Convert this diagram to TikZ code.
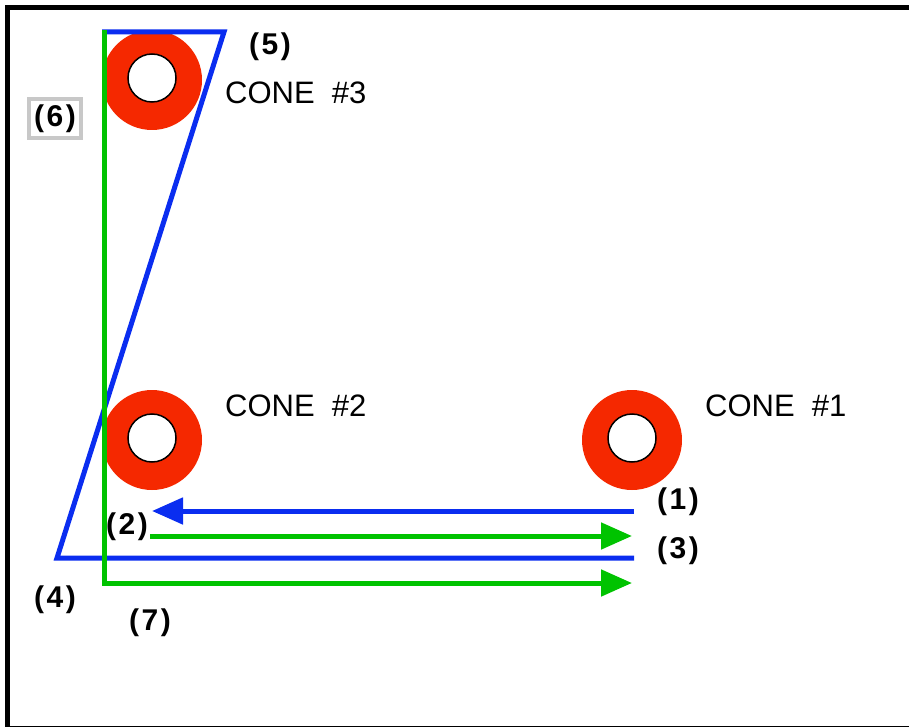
\documentclass[tikz,border=0pt]{standalone}
\usepackage{fontspec}
\setmainfont{Liberation Sans}
\usetikzlibrary{arrows.meta}
\definecolor{conered}{RGB}{245,40,0}
\definecolor{pathblue}{RGB}{10,45,240}
\definecolor{pathgreen}{RGB}{0,195,0}
\definecolor{tagframe}{RGB}{200,200,200}
\newcommand{\steptag}[1]{(\kern2.5pt#1\kern2.5pt)}

\begin{document}
\begin{tikzpicture}[
    x=1pt, y=-1pt,
    ring/.style={circle, fill=conered, minimum size=100pt, inner sep=0pt},
    hole/.style={circle, draw, fill=white, line width=1.5pt, minimum size=48pt, inner sep=0pt},
    conelbl/.style={anchor=west, inner sep=0pt, font=\fontsize{31}{32}\selectfont},
    tag/.style={inner sep=0pt, font=\fontsize{30}{32}\selectfont\bfseries},
    bluepath/.style={draw=pathblue, line width=5pt},
    greenpath/.style={draw=pathgreen, line width=5pt},
    tip/.style={-{Triangle[length=31pt, width=26pt]}}
  ]
    \clip (0,0) rectangle (909,727);
    \draw[line width=5pt] (7.5,7.5) rectangle (920,728.5);

    % cones
    \node[ring] (c3) at (152,80)  {};
    \node[hole] (h3) at (152,78)  {};
    \node[ring] (c2) at (152,440) {};
    \node[hole] (h2) at (152,438) {};
    \node[ring] (c1) at (632,440) {};
    \node[hole] (h1) at (632,438) {};

    \node[conelbl] (l3) at (225,93)  {CONE\ \ \#3};
    \node[conelbl] (l2) at (225,406) {CONE\ \ \#2};
    \node[conelbl] (l1) at (705,406) {CONE\ \ \#1};

    % path corners
    \coordinate (b0) at (102,32);
    \coordinate (b5) at (224,32);
    \coordinate (b4) at (57,558);
    \coordinate (b3) at (634,558);
    \coordinate (a1s) at (634,511);
    \coordinate (a1e) at (152,511);
    \coordinate (a2s) at (150,536);
    \coordinate (a2e) at (632,536);
    \coordinate (g0) at (104,30);
    \coordinate (g1) at (104,583);
    \coordinate (g2) at (632,583);

    \draw[bluepath] (b0) -- (b5) -- (b4) -- (b3);
    \draw[bluepath, tip] (a1s) -- (a1e);
    \draw[greenpath, tip] (a2s) -- (a2e);
    \draw[greenpath, tip] (g0) -- (g1) -- (g2);

    % step labels
    \node[tag] (t1) at (678,502) {\steptag{1}};
    \node[tag] (t2) at (127,527) {\steptag{2}};
    \node[tag] (t3) at (678,551) {\steptag{3}};
    \node[tag] (t4) at (55,600)  {\steptag{4}};
    \node[tag] (t5) at (270,47)  {\steptag{5}};
    \node[tag, draw=tagframe, line width=4pt, fill=white, minimum width=52pt, minimum height=39pt] (t6) at (55,119) {\steptag{6}};
    \node[tag] (t7) at (150,623) {\steptag{7}};
\end{tikzpicture}
\end{document}
